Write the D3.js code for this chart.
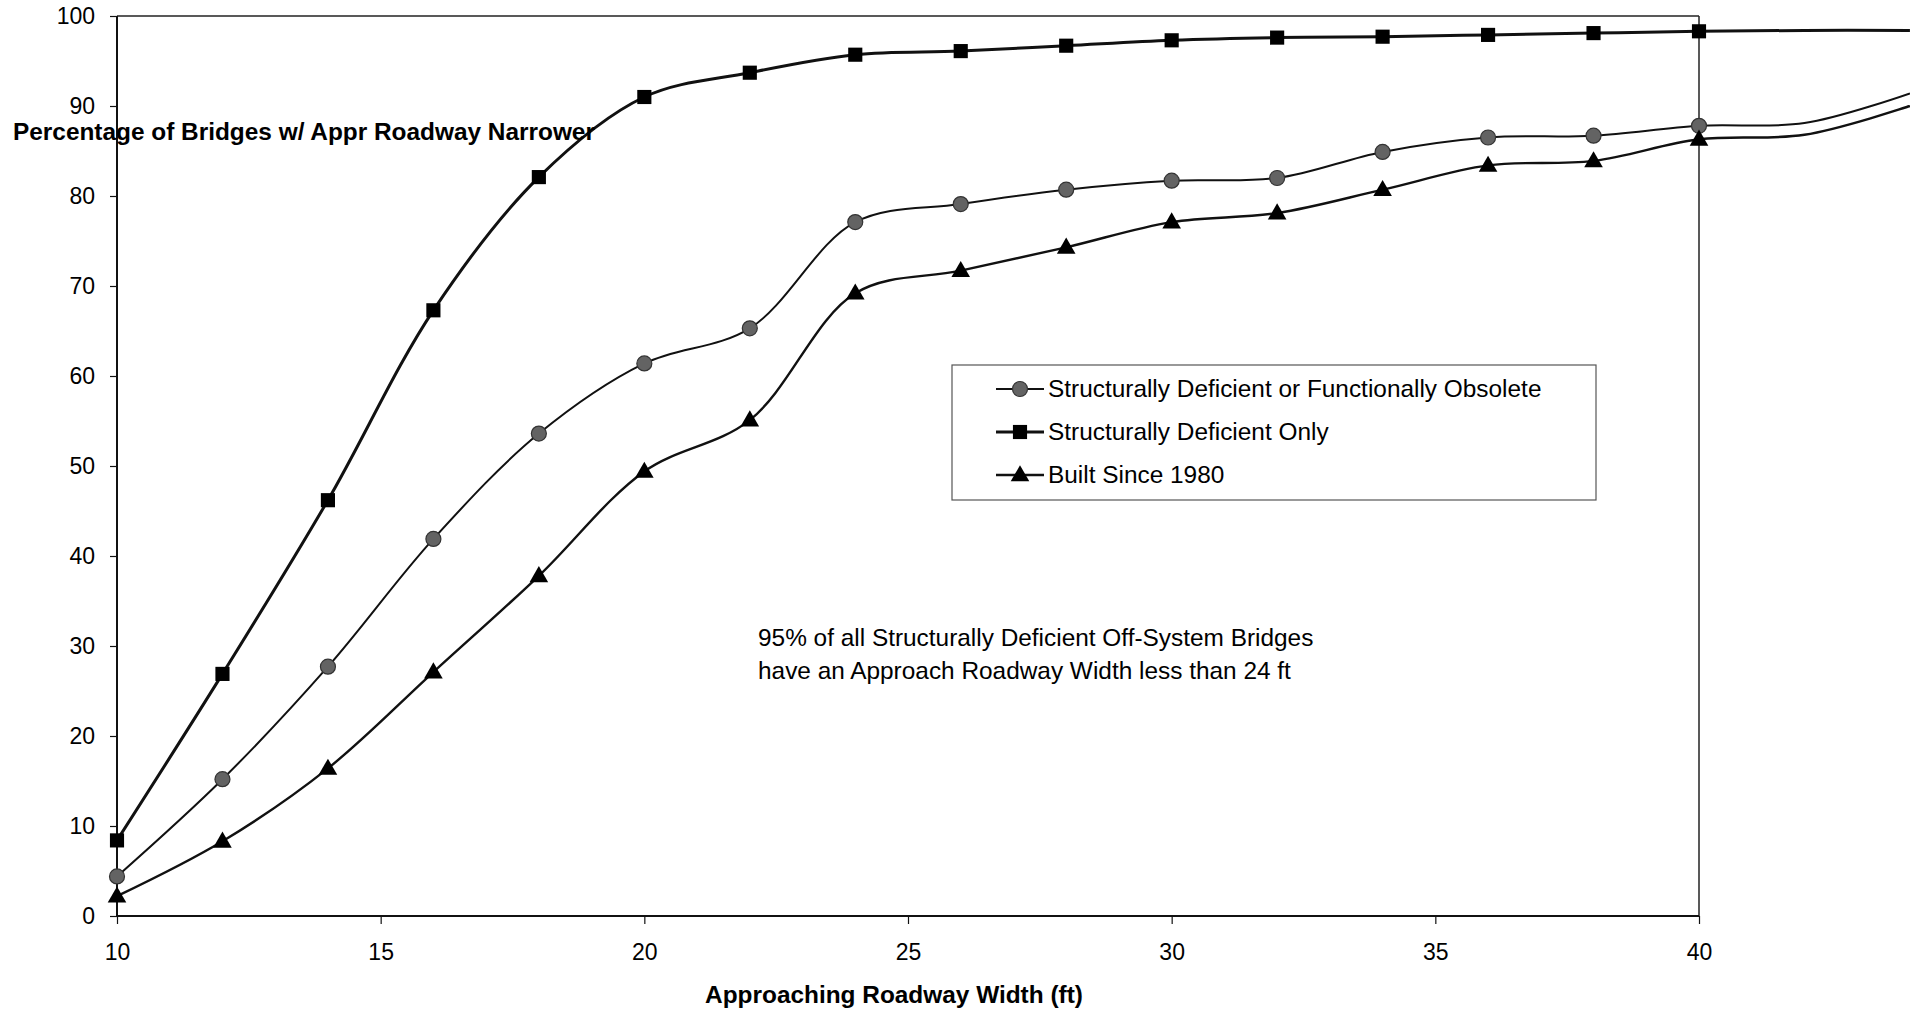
<!DOCTYPE html>
<html>
<head>
<meta charset="utf-8">
<script src="https://cdn.jsdelivr.net/npm/d3@7"></script>
<style>
  html, body { margin: 0; padding: 0; background: #fff; }
  svg { display: block; }
  text { font-family: "Liberation Sans", Arial, sans-serif; fill: #000; }
</style>
</head>
<body>
<svg id="chart" width="1910" height="1013"></svg>
<script>
// ---- data ----
const widths = [10, 12, 14, 16, 18, 20, 22, 24, 26, 28, 30, 32, 34, 36, 38, 40];
const sdOrFo = [4.4, 15.2, 27.7, 41.9, 53.6, 61.4, 65.3, 77.1, 79.1, 80.7, 81.7, 82.0, 84.9, 86.5, 86.7, 87.8];
const sdOnly = [8.4, 26.9, 46.2, 67.3, 82.1, 91.0, 93.7, 95.7, 96.1, 96.7, 97.3, 97.6, 97.7, 97.9, 98.1, 98.3];
const built1980 = [2.2, 8.3, 16.4, 27.1, 37.8, 49.4, 55.1, 69.2, 71.7, 74.3, 77.1, 78.1, 80.7, 83.4, 83.9, 86.3];
// continuation of the lines past the last axis value (no markers)
const extWidths = [42, 44];
const sdOrFoExt = [88.1, 91.4];
const sdOnlyExt = [98.4, 98.4];
const built1980Ext = [86.8, 90.0];

const xTicks = [10, 15, 20, 25, 30, 35, 40];
const yTicks = [0, 10, 20, 30, 40, 50, 60, 70, 80, 90, 100];

const seriesNames = [
  "Structurally Deficient or Functionally Obsolete",
  "Structurally Deficient Only",
  "Built Since 1980"
];
const yTitle = "Percentage of Bridges w/ Appr Roadway Narrower";
const xTitle = "Approaching Roadway Width (ft)";
const noteLines = [
  "95% of all Structurally Deficient Off-System Bridges",
  "have an Approach Roadway Width less than 24 ft"
];

// ---- layout ----
const svg = d3.select("#chart");
const L = 117, R = 1699, T = 16, B = 916;
const x = d3.scaleLinear().domain([10, 40]).range([L, R]);
const y = d3.scaleLinear().domain([0, 100]).range([B, T]);

// plot frame (top and right)
svg.append("line").attr("x1", L).attr("x2", R).attr("y1", T).attr("y2", T)
  .attr("stroke", "#222").attr("stroke-width", 1.5);
svg.append("line").attr("x1", R).attr("x2", R).attr("y1", T).attr("y2", B)
  .attr("stroke", "#222").attr("stroke-width", 1.5);

// axes
const yAxis = svg.append("g").attr("transform", `translate(${L},0)`)
  .call(d3.axisLeft(y).tickValues(yTicks).tickSize(7).tickPadding(15).tickFormat(d3.format("d")));
const xAxis = svg.append("g").attr("transform", `translate(0,${B})`)
  .call(d3.axisBottom(x).tickValues(xTicks).tickSize(8).tickPadding(20).tickFormat(d3.format("d")));
[yAxis, xAxis].forEach(g => {
  g.select(".domain").attr("stroke", "#111").attr("stroke-width", 2);
  g.selectAll(".tick line").attr("stroke", "#111").attr("stroke-width", 1.2);
  g.selectAll(".tick text").style("font-size", "23px").attr("fill", "#000");
});
yAxis.select(".domain").attr("d", `M0,${T}V${B}`);
xAxis.select(".domain").attr("d", `M${L},0H${R}`);

// lines
const line = d3.line().x(d => x(d[0])).y(d => y(d[1])).curve(d3.curveCatmullRom.alpha(0.5));
function pts(vals, ext) {
  return widths.map((w, i) => [w, vals[i]]).concat(extWidths.map((w, i) => [w, ext[i]]));
}
const series = [
  { name: seriesNames[0], vals: sdOrFo, ext: sdOrFoExt, marker: "circle", sw: 2 },
  { name: seriesNames[1], vals: sdOnly, ext: sdOnlyExt, marker: "square", sw: 3 },
  { name: seriesNames[2], vals: built1980, ext: built1980Ext, marker: "triangle", sw: 2.4 }
];

series.forEach(s => {
  svg.append("path").datum(pts(s.vals, s.ext))
    .attr("fill", "none").attr("stroke", "#111").attr("stroke-width", s.sw)
    .attr("d", line);
});

const symSquare = d3.symbol().type(d3.symbolSquare).size(200);
const symTri = d3.symbol().type(d3.symbolTriangle).size(150);

function drawMarker(g, type, cx, cy) {
  if (type === "circle") {
    g.append("circle").attr("cx", cx).attr("cy", cy).attr("r", 7.5)
      .attr("fill", "#636363").attr("stroke", "#333").attr("stroke-width", 1.2);
  } else if (type === "square") {
    g.append("path").attr("d", symSquare()).attr("transform", `translate(${cx},${cy})`)
      .attr("fill", "#000");
  } else {
    g.append("path").attr("d", symTri()).attr("transform", `translate(${cx},${cy + 1})`)
      .attr("fill", "#000");
  }
}

series.forEach(s => {
  const g = svg.append("g");
  widths.forEach((w, i) => drawMarker(g, s.marker, x(w), y(s.vals[i])));
});

// titles
svg.append("text").attr("x", 13).attr("y", 140)
  .style("font-size", "24.4px").style("font-weight", "bold").text(yTitle);
svg.append("text").attr("x", 894).attr("y", 1003).attr("text-anchor", "middle")
  .style("font-size", "24.4px").style("font-weight", "bold").text(xTitle);

// annotation
noteLines.forEach((t, i) => {
  svg.append("text").attr("x", 758).attr("y", 646 + i * 33)
    .style("font-size", "24.4px").text(t);
});

// legend
const lg = svg.append("g");
lg.append("rect").attr("x", 952).attr("y", 365).attr("width", 644).attr("height", 135)
  .attr("fill", "#fff").attr("stroke", "#555").attr("stroke-width", 1.2);
series.forEach((s, i) => {
  const cy = 389 + i * 43;
  lg.append("line").attr("x1", 996).attr("x2", 1044).attr("y1", cy).attr("y2", cy)
    .attr("stroke", "#111").attr("stroke-width", s.sw);
  drawMarker(lg, s.marker, 1020, cy);
  lg.append("text").attr("x", 1048).attr("y", cy + 8).style("font-size", "24.4px").text(s.name);
});
</script>
</body>
</html>
